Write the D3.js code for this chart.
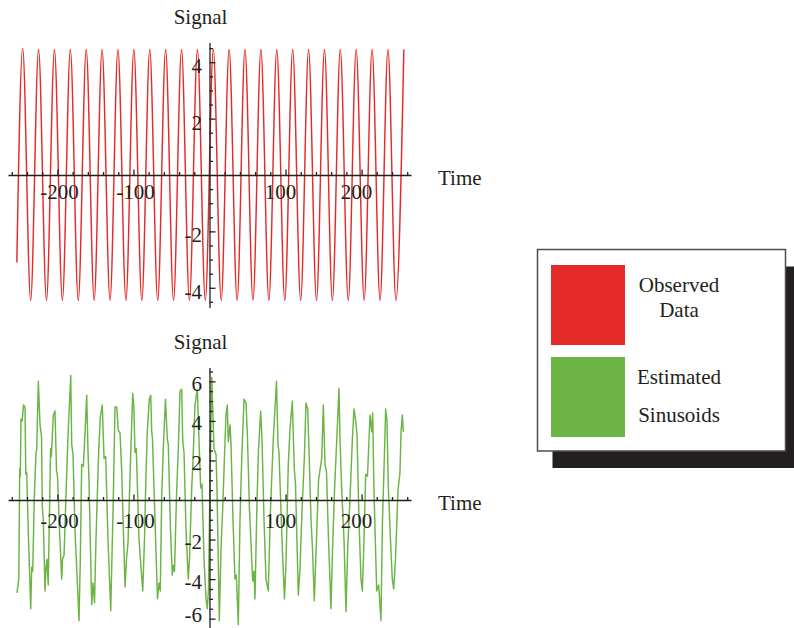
<!DOCTYPE html>
<html>
<head>
<meta charset="utf-8">
<script src="https://cdn.jsdelivr.net/npm/d3@7"></script>
<style>
	body { margin: 0; background: #ffffff; }
	text { font-family: "Liberation Serif", "Times New Roman", serif; fill: #231f20; }
</style>
</head>
<body>
<svg id="chart" width="794" height="628"></svg>
<script>

var vnRedT = [-253.4, -245.7, -235.2, -224.8, -214.4, -203.9, -193.5, -183.0, -172.6, -162.1,
			  -151.7, -141.3, -130.8, -120.4, -109.9, -99.5, -89.0, -78.6, -68.1, -57.7,
			  -47.3, -36.8, -26.4, -15.9, -5.5, 5.0, 15.4, 25.8, 36.3, 46.7,
			  57.2, 67.6, 78.1, 88.5, 99.0, 109.4, 119.9, 130.3, 140.7, 151.2,
			  161.6, 172.0, 182.5, 192.9, 203.4, 213.8, 224.3, 234.7, 245.2, 255.6];
var vnRedV = [-3.1, 4.5, -4.45, 4.45, -4.45, 4.45, -4.45, 4.45, -4.45, 4.45,
			  -4.45, 4.45, -4.45, 4.45, -4.45, 4.45, -4.45, 4.45, -4.45, 4.45,
			  -4.45, 4.45, -4.45, 4.45, -4.45, 4.45, -4.45, 4.45, -4.45, 4.45,
			  -4.45, 4.45, -4.45, 4.45, -4.45, 4.45, -4.45, 4.45, -4.45, 4.45,
			  -4.45, 4.45, -4.45, 4.45, -4.45, 4.45, -4.45, 4.45, -4.45, 4.45];

// estimated sinusoids: vertices
var vnGreenT = [-253.2, -250.8, -249.6, -248.8, -247.9, -246.3, -244.6, -242.6, -241.6, -240.4,
				-238.0, -235.1, -233.8, -232.5, -230.4, -228.2, -227.3, -225.1, -222.9, -220.9,
				-219.9, -218.6, -216.3, -215.0, -213.7, -212.1, -209.0, -208.0, -205.4, -203.2,
				-201.2, -199.9, -197.3, -194.4, -193.3, -191.3, -188.1, -186.1, -182.5, -181.2,
				-179.5, -176.9, -171.6, -169.9, -168.1, -166.0, -163.7, -161.5, -159.8, -158.5,
				-154.9, -153.2, -151.2, -149.3, -145.7, -143.6, -141.0, -138.7, -136.5, -133.5,
				-129.9, -126.5, -124.3, -122.0, -119.9, -117.7, -115.5, -111.1, -109.2, -107.2,
				-103.9, -101.0, -99.6, -98.0, -96.3, -92.7, -87.8, -85.5, -83.5, -81.8,
				-79.2, -77.3, -76.0, -75.0, -71.7, -68.4, -66.4, -64.7, -62.9, -60.8,
				-57.9, -55.5, -54.2, -51.3, -48.9, -47.3, -46.0, -43.4, -41.0, -38.8,
				-36.6, -35.2, -33.5, -30.9, -27.9, -26.3, -23.4, -21.7, -19.1, -16.0,
				-13.8, -11.6, -9.9, -7.2, -4.6, -2.9, -1.3, 0.7, 2.9, 5.9,
				8.6, 9.9, 12.9, 15.1, 17.4, 19.7, 21.7, 23.4, 24.7, 27.0,
				28.3, 30.9, 33.5, 35.3, 37.9, 40.1, 42.4, 45.4, 48.0, 49.7,
				52.6, 56.8, 58.5, 59.8, 62.5, 64.4, 67.3, 69.1, 71.7, 74.3,
				77.3, 80.2, 83.9, 86.1, 88.1, 90.1, 91.4, 95.7, 98.6, 100.6,
				103.6, 105.9, 108.9, 111.5, 113.1, 116.8, 119.0, 121.7, 124.7, 126.9,
				129.2, 130.9, 133.5, 135.5, 137.8, 140.7, 143.4, 147.6, 149.7, 151.9,
				153.9, 156.5, 159.8, 161.5, 164.4, 167.3, 170.3, 171.6, 173.9, 176.9,
				179.5, 181.7, 184.8, 187.8, 190.0, 192.3, 194.0, 196.6, 199.2, 201.0,
				203.2, 205.4, 207.8, 211.1, 213.3, 214.6, 216.3, 219.9, 222.5, 225.5,
				227.5, 229.9, 231.7, 233.4, 235.1, 238.0, 240.4, 242.2, 244.6, 247.9,
				250.5, 251.9, 253.6, 254.9];
var vnGreenV = [-4.7, -4.0, 1.6, 1.2, 4.1, 4.0, 4.8, 4.7, 1.3, 1.4,
				-2.0, -5.5, -3.4, -3.6, 0.1, 2.4, 2.5, 6.0, 3.8, 3.2,
				-0.3, -1.0, -4.6, -3.4, -3.0, -4.3, 2.6, 2.2, 4.3, 4.5,
				1.5, 1.2, -1.5, -4.0, -3.0, -2.8, 1.0, 3.2, 6.3, 2.8,
				2.3, -1.5, -6.1, -3.0, 1.8, 1.7, 3.4, 5.3, 2.5, 1.0,
				-5.3, -4.2, -5.2, -2.0, 2.5, 4.2, 4.8, 2.1, 2.2, -2.0,
				-5.6, 0.1, 4.7, 4.7, 3.5, 3.4, 1.5, -4.4, -3.0, -2.2,
				2.0, 5.4, 4.8, 2.4, 2.6, -2.0, -4.6, -2.0, 1.3, 3.45,
				5.1, 5.3, 3.45, 3.1, -1.0, -5.0, -4.2, -4.6, 0.1, 2.6,
				5.1, 3.1, 2.8, -1.5, -3.8, -3.3, -3.6, 0.2, 2.6, 5.5,
				5.6, 3.0, 2.4, -1.5, -4.0, -3.0, 0.6, 2.0, 4.8, 5.6,
				3.0, 0.6, 0.8, -3.0, -5.0, -5.5, -4.5, 1.0, 6.2, 2.6,
				2.3, 0.5, -6.1, -2.5, -0.4, 2.2, 4.3, 4.8, 2.95, 3.8,
				2.8, -1.0, -4.0, -3.8, -6.3, -1.0, 2.1, 5.1, 4.9, 3.45,
				-0.5, -4.1, -3.6, -5.0, 0.0, 2.5, 4.5, 3.0, -1.0, -4.0,
				-4.6, -0.5, 3.1, 4.6, 6.0, 2.8, 2.4, -2.4, -5.0, -3.2,
				1.8, 3.6, 5.0, 1.6, 0.8, -4.8, -3.5, -0.5, 2.1, 4.9,
				4.6, 2.45, -1.0, -2.5, -5.1, -2.0, 1.0, 2.1, 4.8, 1.8,
				1.4, -2.0, -5.5, -2.9, 0.5, 3.0, 5.65, 3.1, 0.5, -2.0,
				-5.65, -2.5, 0.1, 3.0, 4.6, 4.0, 3.3, -1.0, -4.0, -4.6,
				-2.0, 1.3, 1.2, 4.3, 3.45, 4.4, 0.5, -4.6, -4.3, -6.1,
				-1.0, 2.1, 4.6, 4.0, 0.76, -2.0, -4.0, -4.5, -3.0, 0.5,
				1.4, 3.45, 4.3, 3.45];

var vnXTickLabels = [-200, -100, 100, 200];
var vnTopYTickLabels = [-4, -2, 2, 4];
var vnBottomYTickLabels = [-6, -4, -2, 2, 4, 6];
var vsLegendRed = ["Observed", "Data"];
var vsLegendGreen = ["Estimated", "Sinusoids"];

var g_colorRed = "#e52a2a";
var g_colorGreen = "#6cb444";
var g_colorInk = "#231f20";
var g_nFontSize = 21;
var g_nTextBottomMax = 621.5;	// keep the lowest tick label inside the picture

var g_domSVGMain = d3.select("#chart");

var g_funcScaleX = d3.scaleLinear()
						.domain([-265, 265])
						.range([8, 411]);

function funcDrawPanel(oPanel) {

	var funcScaleY = d3.scaleLinear()
						.domain(oPanel.yDomain)
						.range(oPanel.yRange);

	var nAxisY = funcScaleY(0);
	var nAxisX = g_funcScaleX(0);

	var vnMinorX = d3.range(-260, 261, 20).filter(function(d) { return d != 0 && d % 100 != 0; });
	var vnMinorY = d3.range(-oPanel.yMinorMax, oPanel.yMinorMax + 0.01, 0.5).filter(function(d) { return d != 0 && d % 2 != 0; });

	var gPanel = g_domSVGMain.append("g");

	// -----------------------------------------------------------------------
	// the signal is drawn first, axes over it

	var funcLine = d3.line()
						.x(function(d) { return g_funcScaleX(d[0]); })
						.y(function(d) { return funcScaleY(d[1]); })
						.curve(oPanel.curve);

	gPanel.append("path")
			.datum(d3.zip(oPanel.vnT, oPanel.vnV))
			.attr("d", funcLine)
			.attr("fill", "none")
			.attr("stroke", oPanel.color)
			.attr("stroke-width", 1.45)
			.attr("stroke-linejoin", "round");

	// -----------------------------------------------------------------------

	var gAxisX = gPanel.append("g")
			.attr("transform", "translate(0," + nAxisY + ")");

	gAxisX.call(d3.axisTop(g_funcScaleX).tickValues(vnMinorX).tickSize(3).tickSizeOuter(0).tickFormat(""));
	gAxisX.append("g")
			.call(d3.axisTop(g_funcScaleX).tickValues(vnXTickLabels).tickSize(5.5).tickSizeOuter(0).tickFormat(""))
			.select(".domain").remove();

	var gAxisY = gPanel.append("g")
			.attr("transform", "translate(" + nAxisX + ",0)");

	gAxisY.call(d3.axisRight(funcScaleY).tickValues(vnMinorY).tickSize(3.5).tickSizeOuter(0).tickFormat(""));
	gAxisY.append("g")
			.call(d3.axisRight(funcScaleY).tickValues(oPanel.yTickLabels).tickSize(6).tickSizeOuter(0).tickFormat(""))
			.select(".domain").remove();

	gPanel.selectAll("path.domain, .tick line")
			.attr("stroke", g_colorInk)
			.attr("stroke-width", 1.3);

	// -----------------------------------------------------------------------

	gPanel.selectAll("text.xlabel")
			.data(vnXTickLabels)
			.enter()
			.append("text")
				.attr("class", "xlabel")
				.attr("x", function(d) { return g_funcScaleX(d) + (d < 0 ? 2 : -5); })
				.attr("y", nAxisY + oPanel.xLabelOffset)
				.attr("font-size", g_nFontSize + "px")
				.attr("text-anchor", "middle")
				.text(function(d) { return d; });

	gPanel.selectAll("text.ylabel")
			.data(oPanel.yTickLabels)
			.enter()
			.append("text")
				.attr("class", "ylabel")
				.attr("x", nAxisX - 7.5)
				.attr("y", function(d) { return Math.min(funcScaleY(d) + oPanel.yLabelOffset, g_nTextBottomMax); })
				.attr("font-size", g_nFontSize + "px")
				.attr("text-anchor", "end")
				.text(function(d) { return d; });

	gPanel.append("text")
			.attr("x", 200.5)
			.attr("y", oPanel.titleY)
			.attr("font-size", g_nFontSize + "px")
			.attr("text-anchor", "middle")
			.text("Signal");

	gPanel.append("text")
			.attr("x", 438)
			.attr("y", nAxisY + 10)
			.attr("font-size", g_nFontSize + "px")
			.attr("text-anchor", "start")
			.text("Time");
}

funcDrawPanel({ vnT: vnRedT, vnV: vnRedV, color: g_colorRed, curve: d3.curveMonotoneX,
				yDomain: [-4.7, 4.7], yRange: [307.5, 42.5], yMinorMax: 4.5,
				yTickLabels: vnTopYTickLabels, yLabelOffset: 11, xLabelOffset: 24, titleY: 24 });

funcDrawPanel({ vnT: vnGreenT, vnV: vnGreenV, color: g_colorGreen, curve: d3.curveLinear,
				yDomain: [-6.7, 6.7], yRange: [632.5, 367.5], yMinorMax: 6.5,
				yTickLabels: vnBottomYTickLabels, yLabelOffset: 9.5, xLabelOffset: 28, titleY: 349 });

// -----------------------------------------------------------------------
// legend with drop shadow

function funcDrawLegend() {

	var nX = 537.5, nY = 249.5, nW = 248, nH = 201.5;

	g_domSVGMain.append("rect")
					.attr("x", nX + 15)
					.attr("y", nY + 17)
					.attr("width", nW)
					.attr("height", nH)
					.attr("fill", g_colorInk);

	g_domSVGMain.append("rect")
					.attr("x", nX)
					.attr("y", nY)
					.attr("width", nW)
					.attr("height", nH)
					.attr("fill", "#ffffff")
					.attr("stroke", "#4d4d4f")
					.attr("stroke-width", 1.5);

	var vItems = [{ color: g_colorRed, y: 265, lines: vsLegendRed, base: [292, 317] },
				  { color: g_colorGreen, y: 357, lines: vsLegendGreen, base: [384, 422] }];

	vItems.forEach(function(d) {

		g_domSVGMain.append("rect")
						.attr("x", 551)
						.attr("y", d.y)
						.attr("width", 74)
						.attr("height", 80)
						.attr("fill", d.color);

		d.lines.forEach(function(s, i) {
			g_domSVGMain.append("text")
							.attr("x", 679)
							.attr("y", d.base[i])
							.attr("font-size", g_nFontSize + "px")
							.attr("text-anchor", "middle")
							.text(s);
		});
	});
}

funcDrawLegend();

</script>
</body>
</html>
